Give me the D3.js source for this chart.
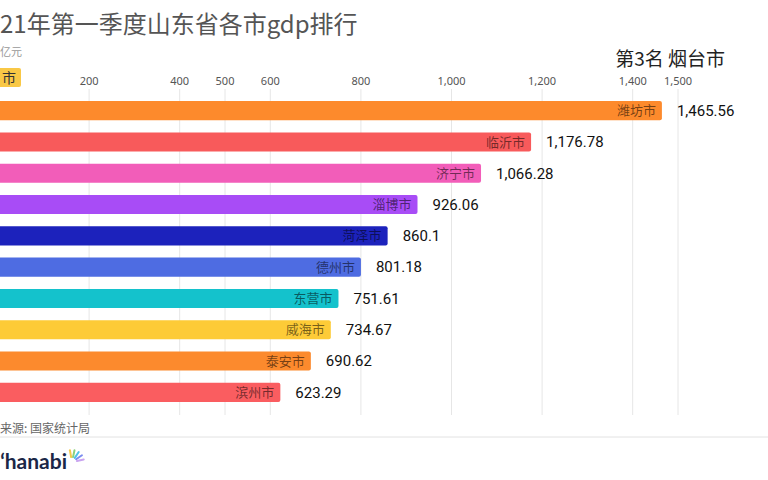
<!DOCTYPE html>
<html>
<head>
<meta charset="utf-8">
<script src="https://cdn.jsdelivr.net/npm/d3@7/dist/d3.min.js"></script>
<style>
  html, body { margin: 0; padding: 0; background: #fff; overflow: hidden; }
  svg { display: block; font-family: "Noto Sans CJK SC", "Noto Sans", sans-serif; }
</style>
</head>
<body>
<svg id="chart" width="768" height="480"></svg>
<script>
const cities = ["潍坊市", "临沂市", "济宁市", "淄博市", "菏泽市", "德州市", "东营市", "威海市", "泰安市", "滨州市"];
const gdpValues = [1465.56, 1176.78, 1066.28, 926.06, 860.1, 801.18, 751.61, 734.67, 690.62, 623.29];
const barColors = ["#FD8A2C", "#F85A5B", "#F25DB9", "#A84CF6", "#1C22BC", "#4E6CE2", "#14C2CC", "#FDCB37", "#FC8A2D", "#FA5D60"];
const tickValues = [200, 400, 500, 600, 800, 1000, 1200, 1400, 1500];
const titleText = "21年第一季度山东省各市gdp排行";
const unitText = "亿元";
const badgeText = "市";
const rankText = "第3名 烟台市";
const sourceText = "来源: 国家统计局";

const svg = d3.select("#chart");
const W = 768, H = 480;

svg.append("rect").attr("width", W).attr("height", H).attr("fill", "#fff");

const x = d3.scaleLinear().domain([0, 1500]).range([-2, 677.5]);
const y = d3.scaleBand().domain(cities).range([95, 408]).paddingInner(0.39).paddingOuter(0.195);

// Title
svg.append("text").attr("x", 0).attr("y", 33)
  .attr("font-size", 24).attr("fill", "#555").text(titleText);

svg.append("text").attr("x", 0).attr("y", 56)
  .attr("font-size", 11).attr("fill", "#999").text(unitText);

// badge
svg.append("rect").attr("x", -10).attr("y", 68).attr("width", 31).attr("height", 19)
  .attr("rx", 2).attr("fill", "#F9C846");
svg.append("text").attr("x", 2).attr("y", 83)
  .attr("font-size", 14).attr("fill", "#333").text(badgeText);

// rank text
svg.append("text").attr("x", 725).attr("y", 66).attr("text-anchor", "end")
  .attr("font-size", 19).attr("fill", "#222").text(rankText);

// axis
const axis = d3.axisTop(x).tickValues(tickValues).tickSize(-(415 - 89))
  .tickFormat(d3.format(","));
const gAxis = svg.append("g").attr("transform", "translate(0,89)").call(axis);
gAxis.select(".domain").remove();
gAxis.selectAll(".tick line").attr("stroke", "#e6e6e6").attr("stroke-width", 1);
gAxis.selectAll(".tick text").attr("font-size", 11).attr("fill", "#555")
  .attr("font-family", "Noto Sans, sans-serif").attr("dy", "-0.1em");

// bars
const data = cities.map((c, i) => ({ city: c, value: gdpValues[i], color: barColors[i] }));
const g = svg.append("g");
g.selectAll("rect.bar").data(data).enter().append("rect")
  .attr("class", "bar")
  .attr("x", x(0))
  .attr("y", d => y(d.city))
  .attr("width", d => x(d.value) - x(0))
  .attr("height", y.bandwidth())
  .attr("rx", 2)
  .attr("fill", d => d.color);

g.selectAll("text.name").data(data).enter().append("text")
  .attr("class", "name")
  .attr("x", d => x(d.value) - 6)
  .attr("y", d => y(d.city) + y.bandwidth() / 2)
  .attr("dy", "0.35em")
  .attr("text-anchor", "end")
  .attr("font-size", 13)
  .attr("fill", "rgba(0,0,0,0.55)")
  .text(d => d.city);

g.selectAll("text.val").data(data).enter().append("text")
  .attr("class", "val")
  .attr("x", d => x(d.value) + 15)
  .attr("y", d => y(d.city) + y.bandwidth() / 2)
  .attr("dy", "0.35em")
  .attr("font-size", 15)
  .attr("font-weight", 400)
  .attr("font-family", "Roboto, sans-serif")
  .attr("fill", "#111")
  .text(d => d3.format(",")(d.value));

// footer
svg.append("line").attr("x1", 0).attr("x2", W).attr("y1", 437).attr("y2", 437)
  .attr("stroke", "#e2e2e2").attr("stroke-width", 1);
svg.append("text").attr("x", 0).attr("y", 433)
  .attr("font-size", 12).attr("fill", "#666").text(sourceText);

// logo
svg.append("text").attr("x", 0).attr("y", 469)
  .attr("font-size", 21).attr("font-weight", 700).attr("font-family", "Lato, sans-serif")
  .attr("fill", "#1b2747").text("\u02BBhanabi");
const sparkColors = ["#f2c94c", "#8bd17c", "#4fc3e8", "#7b8cf0", "#c9a4f0"];
const sg = svg.append("g").attr("transform", "translate(72,462)");
sparkColors.forEach((c, i) => {
  const a = (-100 + i * 22) * Math.PI / 180;
  sg.append("line").attr("x1", 5 * Math.cos(a)).attr("y1", 5 * Math.sin(a))
    .attr("x2", 12 * Math.cos(a)).attr("y2", 12 * Math.sin(a))
    .attr("stroke", c).attr("stroke-width", 2).attr("stroke-linecap", "round");
});
</script>
</body>
</html>
